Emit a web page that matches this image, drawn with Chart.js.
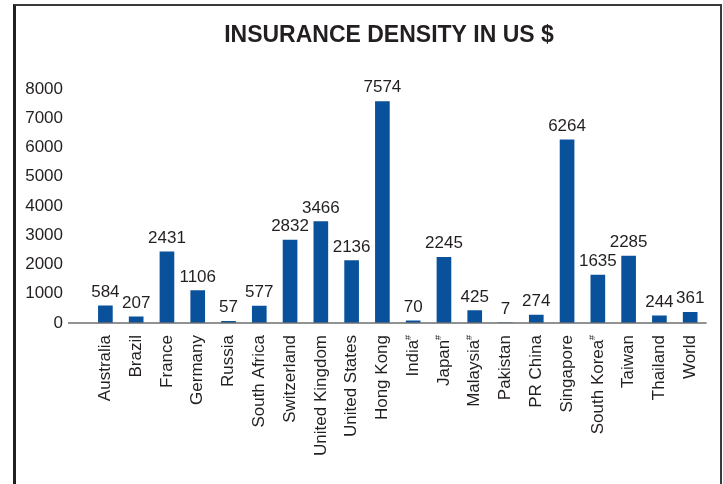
<!DOCTYPE html>
<html>
<head>
<meta charset="utf-8">
<script src="https://cdn.jsdelivr.net/npm/chart.js@4"></script>
<style>
  html, body { margin: 0; padding: 0; background: #fff; }
  #wrap { position: relative; width: 723px; height: 484px; overflow: hidden; }
  #frame {
    position: absolute; left: 13px; top: 4px; width: 704px; height: 500px;
    border-top: 2px solid #3a3a3c; border-right: 2px solid #3a3a3c;
    border-left: 3px solid #231f20; pointer-events: none;
  }
</style>
</head>
<body>
<div id="wrap"><canvas id="bar-chart-area" width="723" height="484"></canvas><div id="frame"></div></div>
<script>
var arrLabel = ['Australia', 'Brazil', 'France', 'Germany', 'Russia', 'South Africa', 'Switzerland',
    'United Kingdom', 'United States', 'Hong Kong', 'India', 'Japan', 'Malaysia', 'Pakistan',
    'PR China', 'Singapore', 'South Korea', 'Taiwan', 'Thailand', 'World'];
var arrNote = [0, 0, 0, 0, 0, 0, 0, 0, 0, 0, 1, 1, 1, 0, 0, 0, 1, 0, 0, 0]; // superscript #
var arrDensity = [584, 207, 2431, 1106, 57, 577, 2832, 3466, 2136, 7574, 70, 2245, 425, 7, 274,
    6264, 1635, 2285, 244, 361];
var arrTicks = [0, 1000, 2000, 3000, 4000, 5000, 6000, 7000, 8000];

var chartTitle = 'INSURANCE DENSITY IN US $';
var FONT = '"Liberation Sans", Arial, Helvetica, sans-serif';
var INK = '#231f20';
var BLUE = '#0a519c';

// title, baseline, value labels, # marks
var extras = {
    id: 'extras',
    beforeDraw: function (chart) {
        var c = chart.ctx;
        c.save();
        c.fillStyle = INK;
        c.font = 'bold 23px ' + FONT;
        c.textAlign = 'center';
        c.textBaseline = 'middle';
        c.fillText(chartTitle, 389, 36);
        c.restore();
    },
    afterDatasetsDraw: function (chart) {
        var c = chart.ctx;
        var y0 = chart.scales.y.getPixelForValue(0);
        c.save();
        c.strokeStyle = '#6d6e71';
        c.lineWidth = 1.5;
        c.beginPath();
        c.moveTo(68, y0);
        c.lineTo(chart.chartArea.right + 1, y0);
        c.stroke();

        c.fillStyle = INK;
        c.font = '17px ' + FONT;
        c.textAlign = 'center';
        c.textBaseline = 'alphabetic';
        chart.getDatasetMeta(0).data.forEach(function (bar, i) {
            c.fillText(String(arrDensity[i]), bar.x, bar.y - 9);
        });

        var xs = chart.scales.x;
        c.font = '9px ' + FONT;
        c.textAlign = 'right';
        c.textBaseline = 'middle';
        arrNote.forEach(function (n, i) {
            if (!n) return;
            c.save();
            c.translate(xs.getPixelForTick(i), xs.top + 12);
            c.rotate(-Math.PI / 2);
            c.fillText('#', 0, -5);
            c.restore();
        });
        c.restore();
    }
};

var configBar = {
    type: 'bar',
    data: {
        labels: arrLabel,
        datasets: [{
            data: arrDensity,
            backgroundColor: BLUE,
            barThickness: 14,
            label: 'Insurance density'
        }]
    },
    options: {
        responsive: false,
        animation: false,
        layout: { padding: { top: 89, right: 17, left: 0, bottom: 0 } },
        plugins: {
            legend: { display: false },
            title: { display: false },
            tooltip: { enabled: false }
        },
        scales: {
            x: {
                grid: { display: false, drawTicks: false },
                border: { display: false },
                afterFit: function (scale) { scale.height = 161; },
                ticks: {
                    color: INK,
                    font: { family: FONT, size: 17 },
                    minRotation: 90,
                    maxRotation: 90,
                    autoSkip: false,
                    padding: 12,
                    callback: function (v, i) {
                        return arrNote[i] ? arrLabel[i] + ' ' : arrLabel[i];
                    }
                }
            },
            y: {
                min: 0,
                max: 8000,
                grid: { display: false, drawTicks: false },
                border: { display: false },
                afterFit: function (scale) { scale.width = 90; },
                afterBuildTicks: function (scale) {
                    scale.ticks = arrTicks.map(function (v) { return { value: v }; });
                },
                ticks: {
                    color: INK,
                    font: { family: FONT, size: 17 },
                    padding: 27,
                    callback: function (v) { return String(v); }
                }
            }
        }
    },
    plugins: [extras]
};

var myChartBar = document.getElementById('bar-chart-area').getContext('2d');
var myBar = new Chart(myChartBar, configBar);
</script>
</body>
</html>
